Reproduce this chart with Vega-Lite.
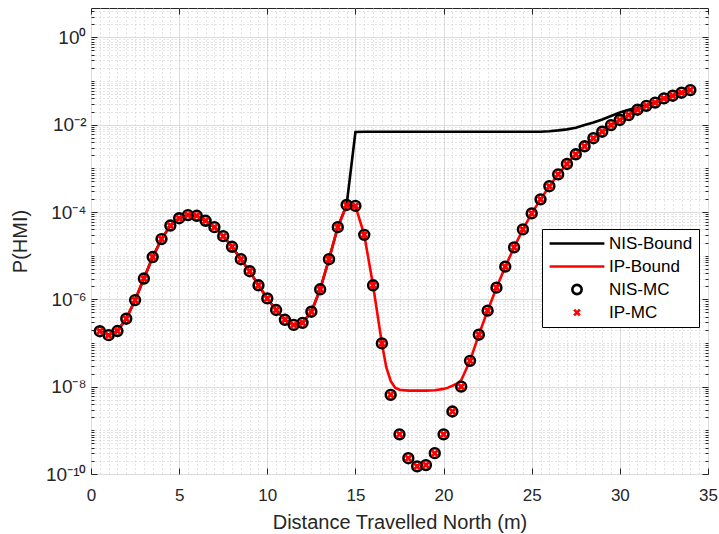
{
  "$schema": "https://vega.github.io/schema/vega-lite/v6.json",
  "width": 617,
  "height": 466,
  "autosize": {"type": "none"},
  "padding": {"left": 91, "top": 8, "right": 11, "bottom": 60},
  "background": "white",
  "config": {"view": {"stroke": "#262626", "strokeWidth": 1}, "font": "Liberation Sans"},
  "datasets": {
    "bounds": [
      {"x": 0.5, "nis": 1.86e-7, "ip": 1.86e-7},
      {"x": 1.0, "nis": 1.51e-7, "ip": 1.51e-7},
      {"x": 1.5, "nis": 1.88e-7, "ip": 1.88e-7},
      {"x": 2.0, "nis": 3.6e-7, "ip": 3.6e-7},
      {"x": 2.5, "nis": 9.6e-7, "ip": 9.6e-7},
      {"x": 3.0, "nis": 3.0e-6, "ip": 3.0e-6},
      {"x": 3.5, "nis": 9.3e-6, "ip": 9.3e-6},
      {"x": 4.0, "nis": 2.4e-5, "ip": 2.4e-5},
      {"x": 4.5, "nis": 4.9e-5, "ip": 4.9e-5},
      {"x": 5.0, "nis": 7.2e-5, "ip": 7.2e-5},
      {"x": 5.5, "nis": 8.5e-5, "ip": 8.5e-5},
      {"x": 6.0, "nis": 8.2e-5, "ip": 8.2e-5},
      {"x": 6.5, "nis": 6.3e-5, "ip": 6.3e-5},
      {"x": 7.0, "nis": 4.5e-5, "ip": 4.5e-5},
      {"x": 7.5, "nis": 2.8e-5, "ip": 2.8e-5},
      {"x": 8.0, "nis": 1.6e-5, "ip": 1.6e-5},
      {"x": 8.5, "nis": 8.3e-6, "ip": 8.3e-6},
      {"x": 9.0, "nis": 4.4e-6, "ip": 4.4e-6},
      {"x": 9.5, "nis": 2.1e-6, "ip": 2.1e-6},
      {"x": 10.0, "nis": 1.05e-6, "ip": 1.05e-6},
      {"x": 10.5, "nis": 5.7e-7, "ip": 5.7e-7},
      {"x": 11.0, "nis": 3.4e-7, "ip": 3.4e-7},
      {"x": 11.5, "nis": 2.6e-7, "ip": 2.6e-7},
      {"x": 12.0, "nis": 2.9e-7, "ip": 2.9e-7},
      {"x": 12.5, "nis": 5.2e-7, "ip": 5.2e-7},
      {"x": 13.0, "nis": 1.7e-6, "ip": 1.7e-6},
      {"x": 13.5, "nis": 8.3e-6, "ip": 8.3e-6},
      {"x": 14.0, "nis": 4.5e-5, "ip": 4.5e-5},
      {"x": 14.5, "nis": 1.45e-4, "ip": 1.45e-4},
      {"x": 15.0, "nis": 6.8e-3, "ip": 1.38e-4},
      {"x": 15.5, "nis": 6.9e-3, "ip": 3.0e-5},
      {"x": 16.0, "nis": 6.9e-3, "ip": 2.1e-6},
      {"x": 16.5, "nis": 6.9e-3, "ip": 9.8e-8},
      {"x": 16.75, "nis": 6.9e-3, "ip": 2.8e-8},
      {"x": 17.0, "nis": 6.9e-3, "ip": 1.35e-8},
      {"x": 17.25, "nis": 6.9e-3, "ip": 9.5e-9},
      {"x": 17.5, "nis": 6.9e-3, "ip": 8.5e-9},
      {"x": 18.0, "nis": 6.9e-3, "ip": 8.1e-9},
      {"x": 18.5, "nis": 6.9e-3, "ip": 8.1e-9},
      {"x": 19.0, "nis": 6.9e-3, "ip": 8.1e-9},
      {"x": 19.5, "nis": 6.9e-3, "ip": 8.3e-9},
      {"x": 20.0, "nis": 6.9e-3, "ip": 8.9e-9},
      {"x": 20.25, "nis": 6.9e-3, "ip": 9.5e-9},
      {"x": 20.5, "nis": 6.9e-3, "ip": 1.05e-8},
      {"x": 20.75, "nis": 6.9e-3, "ip": 1.17e-8},
      {"x": 21.0, "nis": 6.9e-3, "ip": 1.4e-8},
      {"x": 21.5, "nis": 6.9e-3, "ip": 3.9e-8},
      {"x": 22.0, "nis": 6.9e-3, "ip": 1.55e-7},
      {"x": 22.5, "nis": 6.9e-3, "ip": 5.5e-7},
      {"x": 23.0, "nis": 6.9e-3, "ip": 1.85e-6},
      {"x": 23.5, "nis": 6.9e-3, "ip": 5.6e-6},
      {"x": 24.0, "nis": 6.9e-3, "ip": 1.55e-5},
      {"x": 24.5, "nis": 6.9e-3, "ip": 4.0e-5},
      {"x": 25.0, "nis": 6.9e-3, "ip": 9.3e-5},
      {"x": 25.5, "nis": 6.9e-3, "ip": 1.95e-4},
      {"x": 26.0, "nis": 7.1e-3, "ip": 3.9e-4},
      {"x": 26.5, "nis": 7.4e-3, "ip": 7.3e-4},
      {"x": 27.0, "nis": 7.8e-3, "ip": 1.26e-3},
      {"x": 27.5, "nis": 8.5e-3, "ip": 2.1e-3},
      {"x": 28.0, "nis": 9.8e-3, "ip": 3.2e-3},
      {"x": 28.5, "nis": 1.12e-2, "ip": 4.9e-3},
      {"x": 29.0, "nis": 1.32e-2, "ip": 6.9e-3},
      {"x": 29.5, "nis": 1.58e-2, "ip": 9.8e-3},
      {"x": 30.0, "nis": 1.9e-2, "ip": 1.28e-2},
      {"x": 30.5, "nis": 2.2e-2, "ip": 1.66e-2},
      {"x": 31.0, "nis": 2.45e-2, "ip": 2.2e-2},
      {"x": 31.5, "nis": 2.75e-2, "ip": 2.7e-2},
      {"x": 32.0, "nis": 3.2e-2, "ip": 3.2e-2},
      {"x": 32.5, "nis": 4.0e-2, "ip": 4.0e-2},
      {"x": 33.0, "nis": 4.6e-2, "ip": 4.6e-2},
      {"x": 33.5, "nis": 5.4e-2, "ip": 5.4e-2},
      {"x": 34.0, "nis": 6.2e-2, "ip": 6.2e-2}
    ],
    "mc": [
      {"x": 0.5, "NIS-MC": 1.86e-7, "IP-MC": 1.86e-7},
      {"x": 1.0, "NIS-MC": 1.51e-7, "IP-MC": 1.51e-7},
      {"x": 1.5, "NIS-MC": 1.88e-7, "IP-MC": 1.88e-7},
      {"x": 2.0, "NIS-MC": 3.6e-7, "IP-MC": 3.6e-7},
      {"x": 2.5, "NIS-MC": 9.6e-7, "IP-MC": 9.6e-7},
      {"x": 3.0, "NIS-MC": 3.0e-6, "IP-MC": 3.0e-6},
      {"x": 3.5, "NIS-MC": 9.3e-6, "IP-MC": 9.3e-6},
      {"x": 4.0, "NIS-MC": 2.4e-5, "IP-MC": 2.4e-5},
      {"x": 4.5, "NIS-MC": 4.9e-5, "IP-MC": 4.9e-5},
      {"x": 5.0, "NIS-MC": 7.2e-5, "IP-MC": 7.2e-5},
      {"x": 5.5, "NIS-MC": 8.5e-5, "IP-MC": 8.5e-5},
      {"x": 6.0, "NIS-MC": 8.2e-5, "IP-MC": 8.2e-5},
      {"x": 6.5, "NIS-MC": 6.3e-5, "IP-MC": 6.3e-5},
      {"x": 7.0, "NIS-MC": 4.5e-5, "IP-MC": 4.5e-5},
      {"x": 7.5, "NIS-MC": 2.8e-5, "IP-MC": 2.8e-5},
      {"x": 8.0, "NIS-MC": 1.6e-5, "IP-MC": 1.6e-5},
      {"x": 8.5, "NIS-MC": 8.3e-6, "IP-MC": 8.3e-6},
      {"x": 9.0, "NIS-MC": 4.4e-6, "IP-MC": 4.4e-6},
      {"x": 9.5, "NIS-MC": 2.1e-6, "IP-MC": 2.1e-6},
      {"x": 10.0, "NIS-MC": 1.05e-6, "IP-MC": 1.05e-6},
      {"x": 10.5, "NIS-MC": 5.7e-7, "IP-MC": 5.7e-7},
      {"x": 11.0, "NIS-MC": 3.4e-7, "IP-MC": 3.4e-7},
      {"x": 11.5, "NIS-MC": 2.6e-7, "IP-MC": 2.6e-7},
      {"x": 12.0, "NIS-MC": 2.9e-7, "IP-MC": 2.9e-7},
      {"x": 12.5, "NIS-MC": 5.2e-7, "IP-MC": 5.2e-7},
      {"x": 13.0, "NIS-MC": 1.7e-6, "IP-MC": 1.7e-6},
      {"x": 13.5, "NIS-MC": 8.3e-6, "IP-MC": 8.3e-6},
      {"x": 14.0, "NIS-MC": 4.5e-5, "IP-MC": 4.5e-5},
      {"x": 14.5, "NIS-MC": 1.45e-4, "IP-MC": 1.45e-4},
      {"x": 15.0, "NIS-MC": 1.38e-4, "IP-MC": 1.38e-4},
      {"x": 15.5, "NIS-MC": 3.0e-5, "IP-MC": 3.0e-5},
      {"x": 16.0, "NIS-MC": 2.1e-6, "IP-MC": 2.1e-6},
      {"x": 16.5, "NIS-MC": 9.8e-8, "IP-MC": 9.8e-8},
      {"x": 17.0, "NIS-MC": 6.5e-9, "IP-MC": 6.5e-9},
      {"x": 17.5, "NIS-MC": 8.1e-10, "IP-MC": 8.1e-10},
      {"x": 18.0, "NIS-MC": 2.3e-10, "IP-MC": 2.3e-10},
      {"x": 18.5, "NIS-MC": 1.5e-10, "IP-MC": 1.5e-10},
      {"x": 19.0, "NIS-MC": 1.6e-10, "IP-MC": 1.6e-10},
      {"x": 19.5, "NIS-MC": 3.0e-10, "IP-MC": 3.0e-10},
      {"x": 20.0, "NIS-MC": 8.1e-10, "IP-MC": 8.1e-10},
      {"x": 20.5, "NIS-MC": 2.7e-9, "IP-MC": 2.7e-9},
      {"x": 21.0, "NIS-MC": 1.0e-8, "IP-MC": 1.0e-8},
      {"x": 21.5, "NIS-MC": 3.9e-8, "IP-MC": 3.9e-8},
      {"x": 22.0, "NIS-MC": 1.55e-7, "IP-MC": 1.55e-7},
      {"x": 22.5, "NIS-MC": 5.5e-7, "IP-MC": 5.5e-7},
      {"x": 23.0, "NIS-MC": 1.85e-6, "IP-MC": 1.85e-6},
      {"x": 23.5, "NIS-MC": 5.6e-6, "IP-MC": 5.6e-6},
      {"x": 24.0, "NIS-MC": 1.55e-5, "IP-MC": 1.55e-5},
      {"x": 24.5, "NIS-MC": 4.0e-5, "IP-MC": 4.0e-5},
      {"x": 25.0, "NIS-MC": 9.3e-5, "IP-MC": 9.3e-5},
      {"x": 25.5, "NIS-MC": 1.95e-4, "IP-MC": 1.95e-4},
      {"x": 26.0, "NIS-MC": 3.9e-4, "IP-MC": 3.9e-4},
      {"x": 26.5, "NIS-MC": 7.3e-4, "IP-MC": 7.3e-4},
      {"x": 27.0, "NIS-MC": 1.26e-3, "IP-MC": 1.26e-3},
      {"x": 27.5, "NIS-MC": 2.1e-3, "IP-MC": 2.1e-3},
      {"x": 28.0, "NIS-MC": 3.2e-3, "IP-MC": 3.2e-3},
      {"x": 28.5, "NIS-MC": 4.9e-3, "IP-MC": 4.9e-3},
      {"x": 29.0, "NIS-MC": 6.9e-3, "IP-MC": 6.9e-3},
      {"x": 29.5, "NIS-MC": 9.8e-3, "IP-MC": 9.8e-3},
      {"x": 30.0, "NIS-MC": 1.28e-2, "IP-MC": 1.28e-2},
      {"x": 30.5, "NIS-MC": 1.66e-2, "IP-MC": 1.66e-2},
      {"x": 31.0, "NIS-MC": 2.2e-2, "IP-MC": 2.2e-2},
      {"x": 31.5, "NIS-MC": 2.7e-2, "IP-MC": 2.7e-2},
      {"x": 32.0, "NIS-MC": 3.2e-2, "IP-MC": 3.2e-2},
      {"x": 32.5, "NIS-MC": 4.0e-2, "IP-MC": 4.0e-2},
      {"x": 33.0, "NIS-MC": 4.6e-2, "IP-MC": 4.6e-2},
      {"x": 33.5, "NIS-MC": 5.4e-2, "IP-MC": 5.4e-2},
      {"x": 34.0, "NIS-MC": 6.2e-2, "IP-MC": 6.2e-2}
    ]
  },
  "resolve": {"axis": {"x": "independent", "y": "independent"}},
  "layer": [
    {
      "data": {"name": "bounds"},
      "mark": {"type": "line", "color": "black", "strokeWidth": 2.6},
      "encoding": {
        "x": {
          "field": "x", "type": "quantitative",
          "scale": {"domain": [0, 35], "nice": false, "zero": false},
          "axis": {
            "orient": "bottom",
            "values": [0,0.5,1,1.5,2,2.5,3,3.5,4,4.5,5,5.5,6,6.5,7,7.5,8,8.5,9,9.5,10,10.5,11,11.5,12,12.5,13,13.5,14,14.5,15,15.5,16,16.5,17,17.5,18,18.5,19,19.5,20,20.5,21,21.5,22,22.5,23,23.5,24,24.5,25,25.5,26,26.5,27,27.5,28,28.5,29,29.5,30,30.5,31,31.5,32,32.5,33,33.5,34,34.5,35],
            "grid": true,
            "domain": false,
            "gridDash": {"condition": {"test": "datum.value % 5 == 0", "value": []}, "value": [1, 3]},
            "gridColor": {"condition": {"test": "datum.value % 5 == 0", "value": "#dcdcdc"}, "value": "#c8c8c8"},
            "gridWidth": 1,
            "tickSize": {"condition": {"test": "datum.value % 5 == 0", "value": -6}, "value": 0},
            "tickColor": "#262626",
            "labelExpr": "datum.value % 5 == 0 ? format(datum.value, 'd') : ''",
            "labelFont": "Liberation Sans",
            "labelFontSize": 17,
            "labelColor": "#262626",
            "labelPadding": 19,
            "labelOverlap": false,
            "labelFlush": false,
            "labelBound": false,
            "title": "Distance Travelled North (m)",
            "titleFont": "Liberation Sans",
            "titleFontSize": 20,
            "titleFontWeight": "normal",
            "titleColor": "#262626",
            "titleY": 48,
            "titleBaseline": "middle"
          }
        },
        "y": {
          "field": "nis", "type": "quantitative",
          "scale": {"type": "log", "domain": [1e-10, 4.7], "nice": false},
          "axis": {
            "orient": "left",
            "values": [1e-10,2e-10,3e-10,4e-10,5e-10,6e-10,7e-10,8e-10,9e-10,1e-9,2e-9,3e-9,4e-9,5e-9,6e-9,7e-9,8e-9,9e-9,1e-8,2e-8,3e-8,4e-8,5e-8,6e-8,7e-8,8e-8,9e-8,1e-7,2e-7,3e-7,4e-7,5e-7,6e-7,7e-7,8e-7,9e-7,1e-6,2e-6,3e-6,4e-6,5e-6,6e-6,7e-6,8e-6,9e-6,1e-5,2e-5,3e-5,4e-5,5e-5,6e-5,7e-5,8e-5,9e-5,1e-4,2e-4,3e-4,4e-4,5e-4,6e-4,7e-4,8e-4,9e-4,0.001,0.002,0.003,0.004,0.005,0.006,0.007,0.008,0.009,0.01,0.02,0.03,0.04,0.05,0.06,0.07,0.08,0.09,0.1,0.2,0.3,0.4,0.5,0.6,0.7,0.8,0.9,1,2,3,4],
            "grid": true,
            "domain": false,
            "ticks": false,
            "gridDash": {"condition": {"test": "abs(log(datum.value)/LN10/2 - round(log(datum.value)/LN10/2)) < 0.001", "value": []}, "value": [1, 3]},
            "gridColor": {"condition": {"test": "abs(log(datum.value)/LN10/2 - round(log(datum.value)/LN10/2)) < 0.001", "value": "#dcdcdc"}, "value": "#c8c8c8"},
            "gridWidth": 1,
            "labelExpr": "abs(log(datum.value)/LN10/2 - round(log(datum.value)/LN10/2)) < 0.001 ? ['10⁻¹⁰','10⁻⁸','10⁻⁶','10⁻⁴','10⁻²','10⁰'][round(log(datum.value)/LN10/2) + 5] : ''",
            "labelFont": "Liberation Sans",
            "labelFontSize": 19,
            "labelColor": "#262626",
            "labelPadding": 5,
            "labelOverlap": false,
            "labelFlush": false,
            "labelBound": false,
            "title": "P(HMI)",
            "titleFont": "Liberation Sans",
            "titleFontSize": 20,
            "titleFontWeight": "normal",
            "titleColor": "#262626",
            "titleX": -71,
            "titleY": 233,
            "titleBaseline": "middle"
          }
        }
      }
    },
    {
      "data": {"name": "bounds"},
      "mark": {"type": "line", "color": "#ff0000", "strokeWidth": 2.6},
      "encoding": {
        "x": {
          "field": "x", "type": "quantitative",
          "scale": {"domain": [0, 35], "nice": false, "zero": false},
          "axis": {
            "orient": "top",
            "values": [0,5,10,15,20,25,30,35],
            "grid": false, "domain": false, "labels": false, "title": null,
            "tickSize": -6, "tickColor": "#262626"
          }
        },
        "y": {
          "field": "ip", "type": "quantitative",
          "scale": {"type": "log", "domain": [1e-10, 4.7], "nice": false},
          "axis": {
            "orient": "right",
            "values": [1e-10,2e-10,3e-10,4e-10,5e-10,6e-10,7e-10,8e-10,9e-10,1e-9,2e-9,3e-9,4e-9,5e-9,6e-9,7e-9,8e-9,9e-9,1e-8,2e-8,3e-8,4e-8,5e-8,6e-8,7e-8,8e-8,9e-8,1e-7,2e-7,3e-7,4e-7,5e-7,6e-7,7e-7,8e-7,9e-7,1e-6,2e-6,3e-6,4e-6,5e-6,6e-6,7e-6,8e-6,9e-6,1e-5,2e-5,3e-5,4e-5,5e-5,6e-5,7e-5,8e-5,9e-5,1e-4,2e-4,3e-4,4e-4,5e-4,6e-4,7e-4,8e-4,9e-4,0.001,0.002,0.003,0.004,0.005,0.006,0.007,0.008,0.009,0.01,0.02,0.03,0.04,0.05,0.06,0.07,0.08,0.09,0.1,0.2,0.3,0.4,0.5,0.6,0.7,0.8,0.9,1,2,3,4],
            "grid": false, "domain": false, "labels": false, "title": null,
            "tickSize": {"condition": {"test": "abs(log(datum.value)/LN10/2 - round(log(datum.value)/LN10/2)) < 0.001", "value": -6}, "value": -3},
            "tickColor": "#262626"
          }
        }
      }
    },
    {
      "data": {"name": "mc"},
      "transform": [{"fold": ["NIS-MC", "IP-MC"], "as": ["key", "p"]}],
      "mark": {"type": "point", "filled": false, "size": 3300, "opacity": 1},
      "encoding": {
        "x": {"field": "x", "type": "quantitative", "scale": {"domain": [0, 35], "nice": false, "zero": false}, "axis": null},
        "y": {
          "field": "p", "type": "quantitative",
          "scale": {"type": "log", "domain": [1e-10, 4.7], "nice": false},
          "axis": {
            "orient": "left",
            "values": [1e-10,2e-10,3e-10,4e-10,5e-10,6e-10,7e-10,8e-10,9e-10,1e-9,2e-9,3e-9,4e-9,5e-9,6e-9,7e-9,8e-9,9e-9,1e-8,2e-8,3e-8,4e-8,5e-8,6e-8,7e-8,8e-8,9e-8,1e-7,2e-7,3e-7,4e-7,5e-7,6e-7,7e-7,8e-7,9e-7,1e-6,2e-6,3e-6,4e-6,5e-6,6e-6,7e-6,8e-6,9e-6,1e-5,2e-5,3e-5,4e-5,5e-5,6e-5,7e-5,8e-5,9e-5,1e-4,2e-4,3e-4,4e-4,5e-4,6e-4,7e-4,8e-4,9e-4,0.001,0.002,0.003,0.004,0.005,0.006,0.007,0.008,0.009,0.01,0.02,0.03,0.04,0.05,0.06,0.07,0.08,0.09,0.1,0.2,0.3,0.4,0.5,0.6,0.7,0.8,0.9,1,2,3,4],
            "grid": false, "domain": false, "labels": false, "title": null, "offset": 0,
            "tickSize": {"condition": {"test": "abs(log(datum.value)/LN10/2 - round(log(datum.value)/LN10/2)) < 0.001", "value": -6}, "value": -3},
            "tickColor": "#262626"
          }
        },
        "order": {"field": "key", "sort": "descending"},
        "strokeWidth": {"condition": {"test": "datum.key == 'NIS-MC'", "value": 2.6}, "value": 2.8},
        "color": {
          "field": "key", "type": "nominal",
          "scale": {"domain": ["NIS-Bound", "IP-Bound", "NIS-MC", "IP-MC"], "range": ["#000000", "#ff0000", "#000000", "#ff0000"]},
          "legend": {
            "orient": "none", "legendX": 451, "legendY": 221, "title": null,
            "padding": 6, "rowPadding": 5, "clipHeight": 17,
            "symbolSize": 3000, "symbolStrokeWidth": 2.6,
            "labelFont": "Liberation Sans", "labelFontSize": 17, "labelColor": "#000000", "labelOffset": 3,
            "strokeColor": "#000000", "fillColor": "#ffffff"
          }
        },
        "shape": {
          "field": "key", "type": "nominal",
          "scale": {"domain": ["NIS-Bound", "IP-Bound", "NIS-MC", "IP-MC"], "range": ["stroke", "stroke", "M-0.17,0A0.17,0.17,0,1,1,0.17,0A0.17,0.17,0,1,1,-0.17,0Z", "M-0.105,-0.105L0.105,0.105M-0.105,0.105L0.105,-0.105"]},
          "legend": {
            "orient": "none", "legendX": 451, "legendY": 221, "title": null,
            "padding": 6, "rowPadding": 5, "clipHeight": 17,
            "symbolSize": 3000, "symbolStrokeWidth": 2.6,
            "labelFont": "Liberation Sans", "labelFontSize": 17, "labelColor": "#000000", "labelOffset": 3,
            "strokeColor": "#000000", "fillColor": "#ffffff"
          }
        }
      }
    }
  ]
}
